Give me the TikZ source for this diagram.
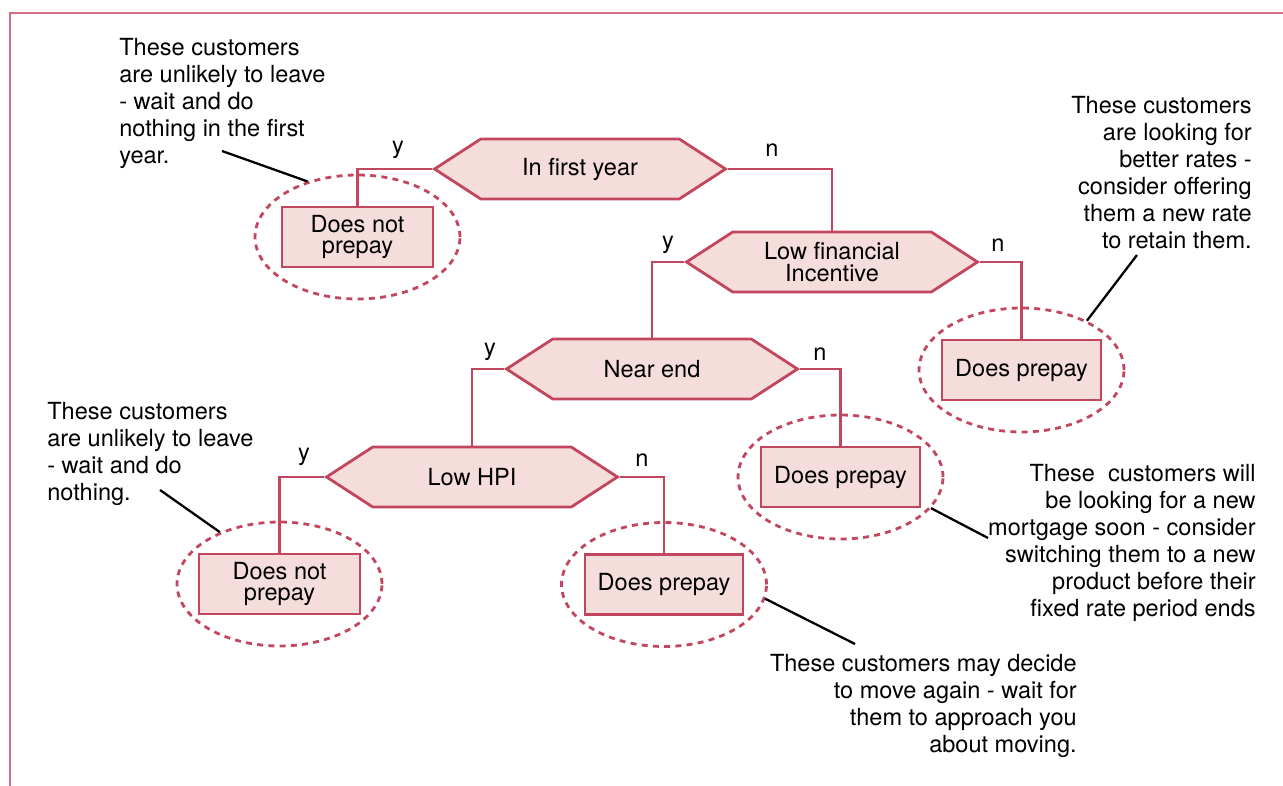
\documentclass[tikz,border=0pt]{standalone}
\usepackage{fontspec}
\setmainfont{TeX Gyre Heros}
\usetikzlibrary{shapes.symbols,shapes.geometric}
\definecolor{edge}{RGB}{195,70,95}
\definecolor{pinkfill}{RGB}{244,221,218}
\definecolor{framecol}{RGB}{212,110,130}
\begin{document}
\begin{tikzpicture}[x=0.02cm, y=-0.02cm, font=\fontsize{13.4}{15.4}\selectfont,
	hexa/.style={signal, signal to=east and west, signal pointer angle=66, draw=edge, fill=pinkfill, line width=1.6pt, minimum width=5.82cm, minimum height=1.2cm, inner sep=0pt, align=center, font=\fontsize{13.4}{12.5}\selectfont},
	leaf/.style={rectangle, draw=edge, fill=pinkfill, line width=1.6pt, minimum height=1.2cm, inner sep=0pt, align=center, font=\fontsize{13.4}{12.5}\selectfont},
	ring/.style={ellipse, draw=edge, line width=1.6pt, dash pattern=on 3.4pt off 3pt, minimum width=4.1cm, minimum height=2.48cm, inner sep=0pt},
	link/.style={draw=edge, line width=1.6pt},
	callout/.style={draw=black, line width=1.3pt},
	note/.style={inner sep=0pt}]
	
	\useasboundingbox (0,0) rectangle (1283,786);
	\draw[framecol, line width=1.1pt] (1283,13) -- (10,13) -- (10,786);
	
	% decisions
	\node[hexa] (first) at (580,169) {In first year};
	\node[hexa] (incentive) at (832,262) {Low financial\\Incentive};
	\node[hexa] (nearend) at (652,369) {Near end};
	\node[hexa] (hpi) at (472,477) {Low HPI};
	
	% outcomes
	\node[leaf, minimum width=3.02cm] (leafA) at (357.5,237) {Does not\\prepay};
	\node[leaf, minimum width=3.18cm] (leafB) at (1021.5,370) {Does prepay};
	\node[leaf, minimum width=3.18cm] (leafC) at (840.5,477) {Does prepay};
	\node[leaf, minimum width=3.22cm] (leafD) at (279.5,584) {Does not\\prepay};
	\node[leaf, minimum width=3.16cm] (leafE) at (664,584.5) {Does prepay};
	
	\node[ring] (ringA) at (leafA) {};
	\node[ring] (ringB) at (leafB) {};
	\node[ring] (ringC) at (leafC) {};
	\node[ring] (ringD) at (leafD) {};
	\node[ring] (ringE) at (leafE) {};
	
	\draw[link] (first.west) -| (leafA.north);
	\draw[link] (first.east) -| (incentive.north);
	\draw[link] (incentive.west) -| (nearend.north);
	\draw[link] (incentive.east) -| (leafB.north);
	\draw[link] (nearend.west) -| (hpi.north);
	\draw[link] (nearend.east) -| (leafC.north);
	\draw[link] (hpi.west) -| (leafD.north);
	\draw[link] (hpi.east) -| (leafE.north);
	
	\node (yA) at (398,150) {y};
	\node (nA) at (772,150) {n};
	\node (yB) at (668,245) {y};
	\node (nB) at (998,245) {n};
	\node (yC) at (490,352) {y};
	\node (nC) at (820,354) {n};
	\node (yD) at (304,457) {y};
	\node (nD) at (642,460) {n};
	
	% comments
	\node[note, anchor=north west, align=left] (noteA) at (119,38) {These customers\\are unlikely to leave\\- wait and do\\nothing in the first\\year.};
	\node[note, anchor=north east, align=right] (noteB) at (1252,96) {These customers\\are looking for\\better rates -\\consider offering\\them a new rate\\to retain them.};
	\node[note, anchor=north west, align=left] (noteC) at (47,402) {These customers\\are unlikely to leave\\- wait and do\\nothing.};
	\node[note, anchor=north east, align=right] (noteD) at (1256,464) {These\ \ customers will\\be looking for a new\\mortgage soon - consider\\switching them to a new\\product before their\\fixed rate period ends};
	\node[note, anchor=north east, align=right] (noteE) at (1077,654) {These customers may decide\\to move again - wait for\\them to approach you\\about moving.};
	
	\coordinate (tipA) at (222,151);
	\coordinate (tipB) at (1137,255);
	\coordinate (tipC) at (160,490);
	\coordinate (tipD) at (988,538);
	\coordinate (tipE) at (855,644);
	\draw[callout] (tipA) -- (ringA.132);
	\draw[callout] (tipB) -- (ringB.37);
	\draw[callout] (tipC) -- (ringD.139);
	\draw[callout] (tipD) -- (ringC.-19);
	\draw[callout] (tipE) -- (ringE.-8);
\end{tikzpicture}
\end{document}
